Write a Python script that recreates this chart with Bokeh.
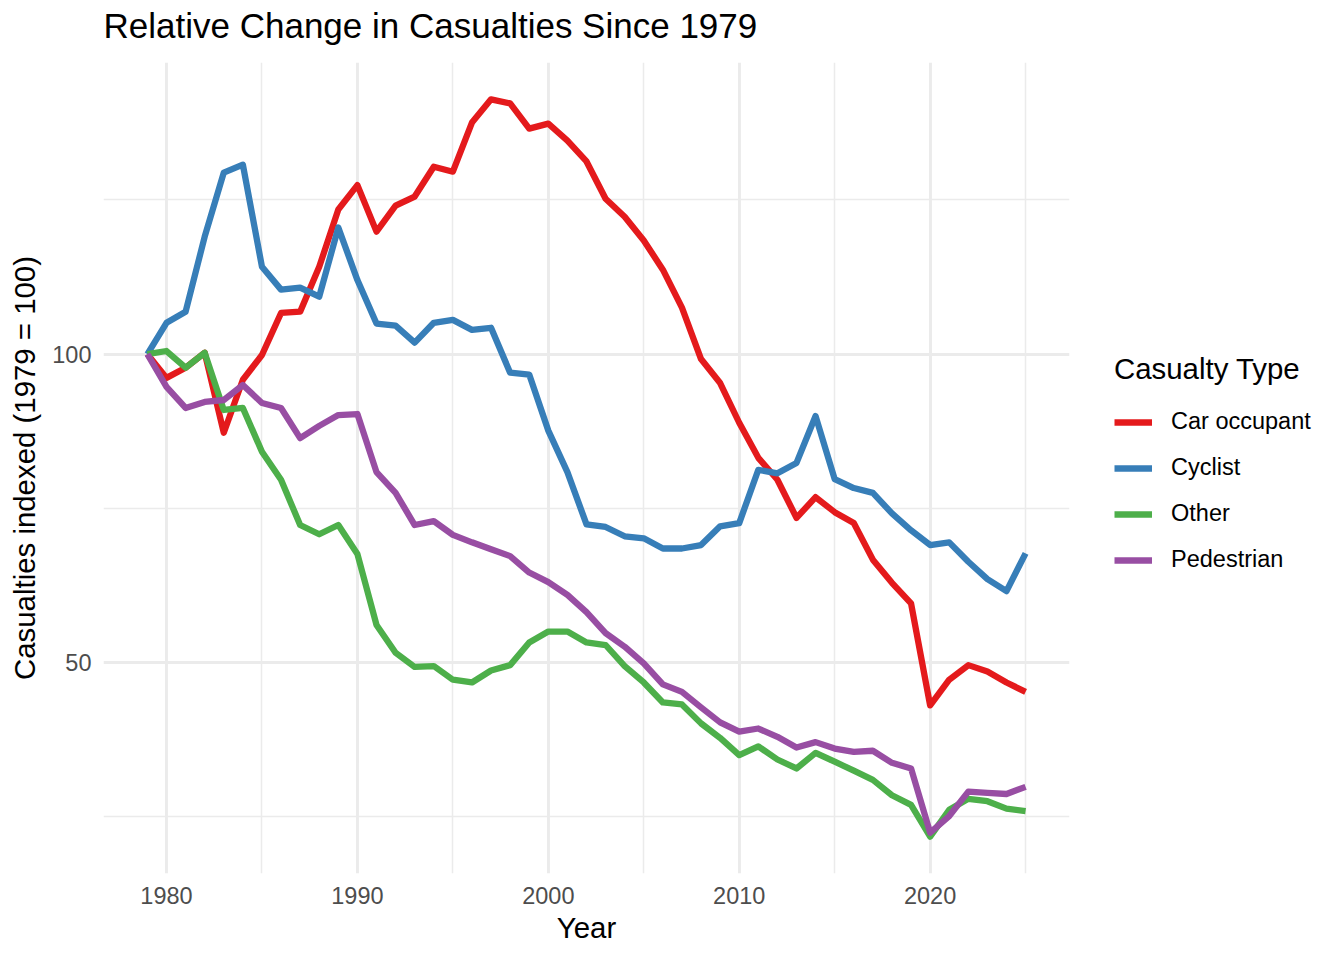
import math
from bokeh.plotting import figure
from bokeh.models import (FixedTicker, NumeralTickFormatter, Range1d, Legend, LegendItem,
                          ColumnDataSource, Title)
from bokeh.embed import file_html
from bokeh.resources import INLINE

years = list(range(1979, 2026))

car_occupant = [100, 94.8, 97.0, 100.3, 83.8, 94.4, 99.8, 109.7, 110.0, 121.7,
                138.4, 146.2, 131.7, 139.6, 142.5, 152.4, 150.7, 168.3, 177.3, 175.7,
                166.0, 167.9, 161.6, 154.2, 141.8, 136.2, 129.1, 120.9, 111.0, 98.9,
                93.7, 85.7, 79.2, 75.4, 69.2, 72.5, 70.1, 68.4, 63.0, 59.8,
                57.1, 45.4, 48.1, 49.7, 49.0, 47.8, 46.8]

cyclist = [100, 107.3, 110.0, 130.2, 150.4, 153.1, 121.7, 115.6, 116.1, 113.8,
           132.9, 118.1, 107.1, 106.6, 102.6, 107.3, 108.0, 105.6, 106.1, 95.9,
           95.5, 84.2, 76.7, 68.2, 67.8, 66.4, 66.1, 64.6, 64.6, 65.1,
           67.9, 68.4, 77.1, 76.5, 78.3, 87.0, 75.5, 74.0, 73.2, 69.9,
           67.3, 65.1, 65.5, 62.7, 60.3, 58.7, 63.9]

other = [100, 100.7, 97.0, 100.3, 88.2, 88.6, 80.3, 75.4, 68.1, 66.7,
         68.1, 63.8, 54.4, 51.1, 49.5, 49.6, 48.1, 47.8, 49.1, 49.7,
         52.3, 53.6, 53.6, 52.3, 52.0, 49.6, 47.8, 45.7, 45.5, 43.6,
         42.2, 40.6, 41.4, 40.2, 39.4, 40.8, 40.0, 39.2, 38.4, 37.1,
         36.3, 33.8, 35.9, 36.8, 36.6, 36.0, 35.8]

pedestrian = [100, 92.9, 88.6, 89.8, 90.2, 93.3, 89.6, 88.6, 82.8, 85.1,
              87.2, 87.4, 76.7, 73.2, 68.1, 68.7, 66.6, 65.5, 64.5, 63.5,
              61.2, 59.9, 58.2, 56.0, 53.4, 51.8, 49.9, 47.6, 46.8, 45.2,
              43.7, 42.8, 43.1, 42.3, 41.3, 41.8, 41.2, 40.9, 41.0, 39.9,
              39.4, 34.1, 35.4, 37.4, 37.3, 37.2, 37.8]

series_names = ["Car occupant", "Cyclist", "Other", "Pedestrian"]
series_values = [car_occupant, cyclist, other, pedestrian]
colors = ["#E41A1C", "#377EB8", "#4DAF4A", "#984EA3"]

x_major = [1980, 1990, 2000, 2010, 2020]
x_minor = [1985, 1995, 2005, 2015, 2025]
y_major = [50, 100]
y_minor = [35.36, 70.71, 141.42]

# ranges with 5% expansion (log space for y)
xmin, xmax = min(years), max(years)
xpad = (xmax - xmin) * 0.05
allv = [v for s in series_values for v in s]
lmin, lmax = math.log10(min(allv)), math.log10(max(allv))
lpad = (lmax - lmin) * 0.05

p = figure(frame_width=966, frame_height=811, output_backend="svg", toolbar_location=None,
           y_axis_type="log",
           x_range=Range1d(xmin - xpad, xmax + xpad),
           y_range=Range1d(10 ** (lmin - lpad), 10 ** (lmax + lpad)),
           min_border_left=103, min_border_right=10, min_border_top=62,
           min_border_bottom=72)

p.outline_line_color = None
p.background_fill_color = "white"
p.border_fill_color = "white"

# thin spacer between the frame and the title
p.add_layout(Title(text=" ", text_font_size="1px", standoff=7), "above")

p.title.text = "Relative Change in Casualties Since 1979"
p.title.text_font = "Liberation Sans"
p.title.text_font_size = "35px"
p.title.text_font_style = "normal"
p.title.text_color = "black"
p.title.align = "left"
p.title.vertical_align = "top"
p.title.standoff = 11

p.xaxis.ticker = FixedTicker(ticks=x_major, minor_ticks=x_minor)
p.yaxis.ticker = FixedTicker(ticks=y_major, minor_ticks=y_minor)
p.xaxis.formatter = NumeralTickFormatter(format="0")
p.yaxis.formatter = NumeralTickFormatter(format="0")

for ax in (p.xaxis, p.yaxis):
    ax.axis_line_color = None
    ax.major_tick_line_color = None
    ax.minor_tick_line_color = None
    ax.major_tick_out = 0
    ax.major_tick_in = 0
    ax.major_label_text_font = "Liberation Sans"
    ax.major_label_text_font_size = "23.5px"
    ax.major_label_text_color = "#4D4D4D"
    ax.axis_label_text_font = "Liberation Sans"
    ax.axis_label_text_font_size = "29.4px"
    ax.axis_label_text_font_style = "normal"
    ax.axis_label_text_color = "black"

p.xaxis.major_label_standoff = 9
p.yaxis.major_label_standoff = 8
p.xaxis.axis_label = "Year"
p.xaxis.axis_label_standoff = 4
p.yaxis.axis_label = "Casualties indexed (1979 = 100)"
p.yaxis.axis_label_standoff = 8

for g in (p.xgrid, p.ygrid):
    g.grid_line_color = "#EBEBEB"
    g.grid_line_width = 2.9
    g.minor_grid_line_color = "#EBEBEB"
    g.minor_grid_line_width = 1.5

items = []
for name, vals, col in zip(series_names, series_values, colors):
    src = ColumnDataSource(dict(x=years, y=vals))
    r = p.line("x", "y", source=src, line_color=col, line_width=6.3,
               line_join="round")
    items.append(LegendItem(label=name, renderers=[r]))

legend = Legend(items=items, location=(45, 300), margin=0, padding=0,
                title="Casualty Type",
                title_text_font="Liberation Sans", title_text_font_size="29.4px",
                title_text_font_style="normal", title_text_color="black",
                title_standoff=22,
                label_text_font="Liberation Sans", label_text_font_size="23.5px",
                label_text_color="black",
                glyph_width=38, glyph_height=26, label_height=26,
                label_standoff=19, spacing=19,
                border_line_color=None, background_fill_alpha=0)
p.add_layout(legend, "right")

open("out.html", "w").write(file_html(p, INLINE))
